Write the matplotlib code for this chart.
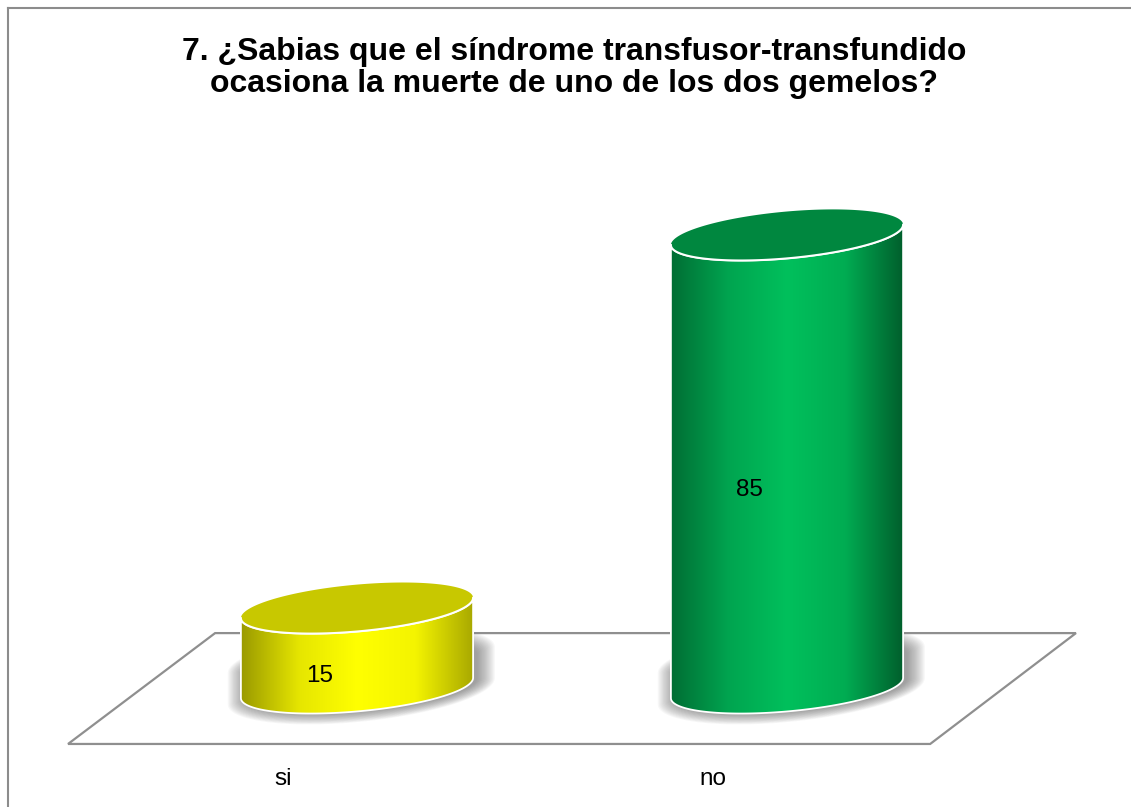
import numpy as np
import matplotlib
matplotlib.use("Agg")
import matplotlib.pyplot as plt
from matplotlib.patches import Polygon
from matplotlib.path import Path
from matplotlib.patches import PathPatch
from matplotlib.colors import LinearSegmentedColormap
from matplotlib.lines import Line2D

plt.rcParams['font.family'] = ['Liberation Sans', 'DejaVu Sans']

# data
categories = ['si', 'no']
values = [15, 85]
title = '7. ¿Sabias que el síndrome transfusor-transfundido\nocasiona la muerte de uno de los dos gemelos?'

# colours per bar: gradient stops across the body, and the top
body_colors = [
    ['#9a9a00', '#e6e600', '#ffff00', '#f4f400', '#a8a800'],
    ['#006e34', '#00a550', '#00c05c', '#00ac52', '#005e2c'],
]
top_colors = ['#c8c800', '#00873f']

fig = plt.figure(figsize=(11.31, 8.07), dpi=100)
ax = fig.add_axes([0, 0, 1, 1])
# axis scale: 430 px per category, 5.33 px per unit
ax.set_xlim(-357 / 430, (1131 - 357) / 430)
ax.set_ylim(-119 / 5.33, 688 / 5.33)
ax.axis('off')

# floor
floor = Polygon([(-0.33, 10.3), (1.672, 10.3), (1.333, -10.5), (-0.672, -10.5)],
                closed=True, facecolor='white', edgecolor='#8f8f8f', lw=1.6, zorder=1)
ax.add_patch(floor)

a = 0.27      # half width of cylinder (category units)
b = 4.4       # half height of ellipse (value units)
k = 1.9       # tilt of ellipse

def ell(cx, cy, t):
    return cx + a * np.cos(t), cy + b * np.sin(t) + k * np.cos(t)

t_full = np.linspace(0, 2 * np.pi, 200)
t_front = np.linspace(np.pi, 2 * np.pi, 100)
t_back = np.linspace(0, np.pi, 100)

for i, (cat, v) in enumerate(zip(categories, values)):
    cx = i
    # soft shadow round the foot of the cylinder
    sx0, sy0 = ell(cx, 0, t_front)
    sx1, sy1 = ell(cx, 4.5, t_back)
    sx = np.concatenate([sx0, sx1])
    sy = np.concatenate([sy0, sy1])
    for j in range(16):
        s = 1 + 0.01 * j
        xs = cx + 0.01 + (sx - cx) * s
        ys = 2 + (sy - 2) * (1 + 0.02 * j)
        ax.fill(xs, ys, color='#505050', alpha=0.045, lw=0, zorder=2)
    # body
    bx, by = ell(cx, 0, t_front)
    tx, ty = ell(cx, v, t_front[::-1])
    verts = np.column_stack([np.concatenate([bx, tx]), np.concatenate([by, ty])])
    body = PathPatch(Path(np.vstack([verts, verts[:1]]), closed=True),
                     facecolor='none', edgecolor='white', lw=1.3, zorder=4)
    ax.add_patch(body)
    cmap = LinearSegmentedColormap.from_list(
        'c%d' % i, list(zip([0, 0.25, 0.5, 0.75, 1], body_colors[i])))
    grad = np.linspace(0, 1, 256).reshape(1, -1)
    im = ax.imshow(grad, cmap=cmap, aspect='auto',
                   extent=[cx - a, cx + a, -10, v + 10], zorder=3,
                   interpolation='bicubic')
    im.set_clip_path(body)
    # top
    ex, ey = ell(cx, v, t_full)
    ax.fill(ex, ey, facecolor=top_colors[i], edgecolor='none', zorder=5)
    fx, fy = ell(cx, v, t_front)
    ax.plot(fx, fy, color='white', lw=1.5, zorder=6)
    # data label
    ax.text(cx - 0.088, v / 2 - 5.3, str(v), fontsize=17.5, ha='center',
            va='center', color='black', zorder=7)
    # category label
    ax.text(cx - 0.172, -17.1, cat, fontsize=17.5, ha='center', va='center',
            color='black')

fig.text(574 / 1131, 1 - 68 / 807, title, fontsize=23, fontweight='bold',
         ha='center', va='center', linespacing=1.12)

# chart border (left and top visible)
fig.add_artist(Line2D([8 / 1131, 8 / 1131], [0, 1 - 8 / 807], color='#8c8c8c', lw=1.5))
fig.add_artist(Line2D([8 / 1131, 1], [1 - 8 / 807, 1 - 8 / 807], color='#8c8c8c', lw=1.5))

plt.savefig('out.png', dpi=100)
